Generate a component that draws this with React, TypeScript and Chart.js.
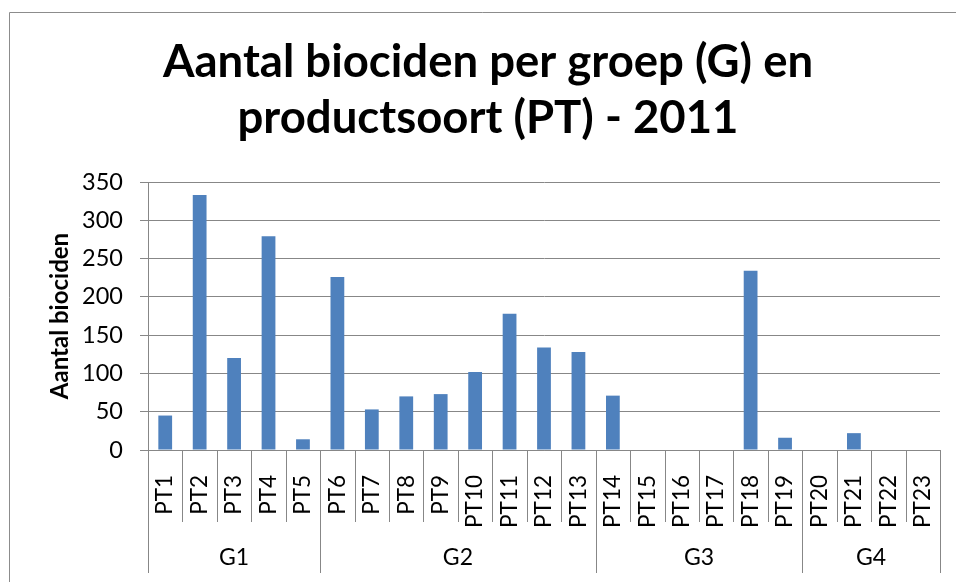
import React, { useEffect, useRef } from 'react';
import { Chart, registerables } from 'chart.js';

Chart.register(...registerables);

const categories = ['PT1','PT2','PT3','PT4','PT5','PT6','PT7','PT8','PT9','PT10','PT11','PT12','PT13','PT14','PT15','PT16','PT17','PT18','PT19','PT20','PT21','PT22','PT23'];
const values = [45, 333, 120, 279, 14, 226, 53, 70, 73, 102, 178, 134, 128, 71, 0, 0, 0, 234, 16, 0, 22, 0, 0];
const groupLabels = ['G1', 'G2', 'G3', 'G4'];
const groupSizes = [5, 8, 6, 4];
const yMin = 0;
const yMax = 350;
const yStep = 50;

const titleLines = ['Aantal biociden per groep (G) en', 'productsoort (PT) - 2011'];
const yTitle = 'Aantal biociden';

const FONT = 'Lato, "Open Sans", sans-serif';
const GRID = '#878787';

const decor = {
  id: 'decor',
  beforeDraw(chart: any) {
    const { ctx, width, height } = chart;
    ctx.save();
    ctx.fillStyle = '#ffffff';
    ctx.fillRect(0, 0, width, height);
    ctx.restore();
  },
  afterDraw(chart: any) {
    const { ctx, width, height } = chart;
    const xs = chart.scales.x;
    const y0 = chart.chartArea.bottom;
    const n = categories.length;
    const step = xs.getPixelForValue(1) - xs.getPixelForValue(0);
    const boundary = (i: number) => xs.getPixelForValue(i) - step / 2;
    const groupEdges = new Set<number>([0]);
    let acc = 0;
    groupSizes.forEach((s) => { acc += s; groupEdges.add(acc); });
    ctx.save();
    ctx.strokeStyle = GRID;
    ctx.lineWidth = 1;
    for (let i = 0; i <= n; i++) {
      const bx = Math.round(boundary(i)) + 0.5;
      const len = groupEdges.has(i) ? 123 : 72;
      ctx.beginPath();
      ctx.moveTo(bx, y0);
      ctx.lineTo(bx, y0 + len);
      ctx.stroke();
    }
    ctx.fillStyle = '#000000';
    ctx.font = `23px ${FONT}`;
    ctx.textAlign = 'center';
    ctx.textBaseline = 'middle';
    let start = 0;
    groupSizes.forEach((s, gi) => {
      const cx = (boundary(start) + boundary(start + s)) / 2;
      ctx.fillText(groupLabels[gi], cx, y0 + 108);
      start += s;
    });
    // chart title
    ctx.font = `bold 45.5px ${FONT}`;
    ctx.textBaseline = 'alphabetic';
    ctx.fillText(titleLines[0], 488, 77);
    ctx.fillText(titleLines[1], 488, 133);
    // outer chart border (cropped at right/bottom)
    ctx.strokeStyle = '#8c8c8c';
    ctx.beginPath();
    ctx.moveTo(9.5, height);
    ctx.lineTo(9.5, 12.5);
    ctx.lineTo(width, 12.5);
    ctx.stroke();
    ctx.restore();
  },
};

export default function App() {
  const ref = useRef<HTMLCanvasElement | null>(null);
  useEffect(() => {
    if (!ref.current) return;
    const chart = new Chart(ref.current, {
      type: 'bar',
      data: {
        labels: categories,
        datasets: [
          {
            data: values,
            backgroundColor: '#4F81BD',
            borderWidth: 0,
            barPercentage: 0.4,
            categoryPercentage: 1,
          },
        ],
      },
      options: {
        animation: false,
        responsive: false,
        maintainAspectRatio: false,
        devicePixelRatio: 1,
        layout: { padding: { left: 0, right: 16, top: 182, bottom: 0 } },
        plugins: {
          legend: { display: false },
          tooltip: { enabled: false },
          title: { display: false },
        },
        scales: {
          x: {
            offset: true,
            grid: { display: false },
            border: { display: true, color: GRID, width: 1 },
            ticks: {
              autoSkip: false,
              minRotation: 90,
              maxRotation: 90,
              padding: 17,
              color: '#000000',
              font: { family: FONT, size: 22.5 },
            },
            afterFit: (s: any) => { s.height = 132; s.paddingRight = 16; s.paddingLeft = 0; },
          },
          y: {
            min: yMin,
            max: yMax,
            ticks: {
              stepSize: yStep,
              padding: 17,
              color: '#000000',
              font: { family: FONT, size: 23.5 },
            },
            grid: { color: GRID, lineWidth: 1, tickLength: 8, drawTicks: true },
            border: { display: true, color: GRID, width: 1 },
            title: {
              display: true,
              text: yTitle,
              color: '#000000',
              font: { family: FONT, size: 24, weight: 'bold', lineHeight: 1.2 },
              padding: { top: 46, bottom: 0 },
            },
            afterFit: (s: any) => { s.width = 148; s.paddingTop = 0; s.paddingBottom = 0; },
          },
        },
      },
      plugins: [decor],
    });
    return () => chart.destroy();
  }, []);
  return (
    <div style={{ position: 'fixed', left: 0, top: 0, width: 956, height: 582, background: '#fff' }}>
      <canvas ref={ref} width={956} height={582} style={{ display: 'block', width: 956, height: 582 }} />
    </div>
  );
}
